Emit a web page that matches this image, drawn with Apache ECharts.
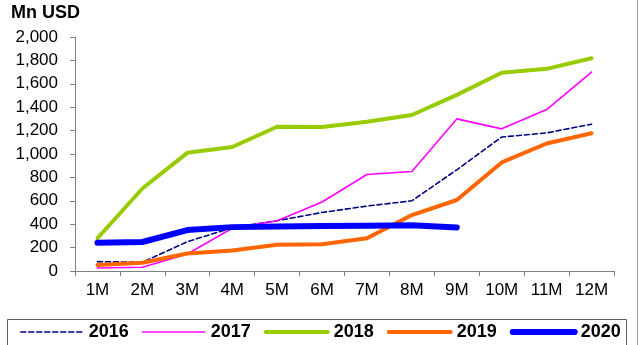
<!DOCTYPE html>
<html>
<head>
<meta charset="utf-8">
<script src="https://cdn.jsdelivr.net/npm/echarts@6/dist/echarts.min.js"></script>
<style>
  html, body { margin: 0; padding: 0; background: #fff; }
  #chart { width: 640px; height: 345px; }
</style>
</head>
<body>
<div id="chart"></div>
<script>
// Cumulative monthly values, Mn USD
const months = ['1M', '2M', '3M', '4M', '5M', '6M', '7M', '8M', '9M', '10M', '11M', '12M'];
const v2016 = [80, 75, 250, 370, 430, 500, 555, 600, 865, 1145, 1180, 1255];
const v2017 = [25, 32, 145, 365, 430, 590, 825, 850, 1300, 1215, 1380, 1700];
const v2018 = [280, 705, 1010, 1060, 1233, 1230, 1275, 1333, 1505, 1695, 1728, 1818];
const v2019 = [52, 70, 150, 175, 225, 228, 280, 478, 607, 928, 1090, 1177];
const v2020 = [242, 248, 350, 375, 380, 385, 386, 390, 372];
const yTicks = { min: 0, max: 2000, step: 200 };

const FONT = 'Liberation Sans, Arial, sans-serif';

// name, values, colour, line width, dashed
const seriesDefs = [
  ['2016', v2016, '#000080', 1.6, true],
  ['2017', v2017, '#FF00FF', 1.6, false],
  ['2018', v2018, '#99CC00', 4, false],
  ['2019', v2019, '#FF6600', 4, false],
  ['2020', v2020, '#0000FF', 6, false]
];

function lineStyleOf(color, width, dashed) {
  return { color: color, width: width, type: dashed ? [5, 3] : 'solid', cap: 'round', join: 'round' };
}

const chart = echarts.init(document.getElementById('chart'), null, { renderer: 'canvas' });
chart.setOption({
  animation: false,
  backgroundColor: '#ffffff',
  title: {
    text: 'Mn USD',
    left: 11, top: 4, padding: 0,
    textStyle: { fontFamily: FONT, fontSize: 18, fontWeight: 'bold', color: '#000' }
  },
  grid: { left: 75, right: 26, top: 37, bottom: 74, containLabel: false },
  xAxis: {
    type: 'category',
    data: months,
    boundaryGap: true,
    axisLine: { lineStyle: { color: '#808080', width: 1 } },
    axisTick: { show: true, length: 5, alignWithLabel: false, lineStyle: { color: '#808080' } },
    axisLabel: { margin: 11, fontFamily: FONT, fontSize: 17, color: '#000' },
    splitLine: { show: false }
  },
  yAxis: {
    type: 'value',
    min: yTicks.min, max: yTicks.max, interval: yTicks.step,
    axisLine: { show: true, lineStyle: { color: '#808080', width: 1 } },
    axisTick: { show: true, length: 5, lineStyle: { color: '#808080' } },
    axisLabel: {
      margin: 17, fontFamily: FONT, fontSize: 17, color: '#000',
      formatter: v => v.toLocaleString('en-US')
    },
    splitLine: { show: false }
  },
  legend: {
    left: 20, top: 323,
    itemWidth: 62, itemHeight: 14, itemGap: 13,
    padding: 0,
    itemStyle: { opacity: 0 },
    textStyle: { fontFamily: FONT, fontSize: 18, fontWeight: 'bold', color: '#000', padding: [0, 0, 0, 1] },
    data: seriesDefs.map(d => ({ name: d[0], lineStyle: lineStyleOf(d[2], d[3], d[4]) }))
  },
  graphic: [
    { type: 'rect', shape: { x: 7.5, y: 319.5, width: 619, height: 30 },
      style: { fill: 'none', stroke: '#606060', lineWidth: 1 }, silent: true },
    { type: 'line', shape: { x1: 637.5, y1: 0, x2: 637.5, y2: 345 },
      style: { stroke: '#a0a0a0', lineWidth: 1 }, silent: true }
  ],
  series: seriesDefs.map(d => ({
    name: d[0],
    type: 'line',
    data: d[1],
    symbol: 'none',
    showSymbol: false,
    smooth: false,
    lineStyle: lineStyleOf(d[2], d[3], d[4]),
    itemStyle: { color: d[2] },
    emphasis: { disabled: true }
  }))
});
</script>
</body>
</html>
